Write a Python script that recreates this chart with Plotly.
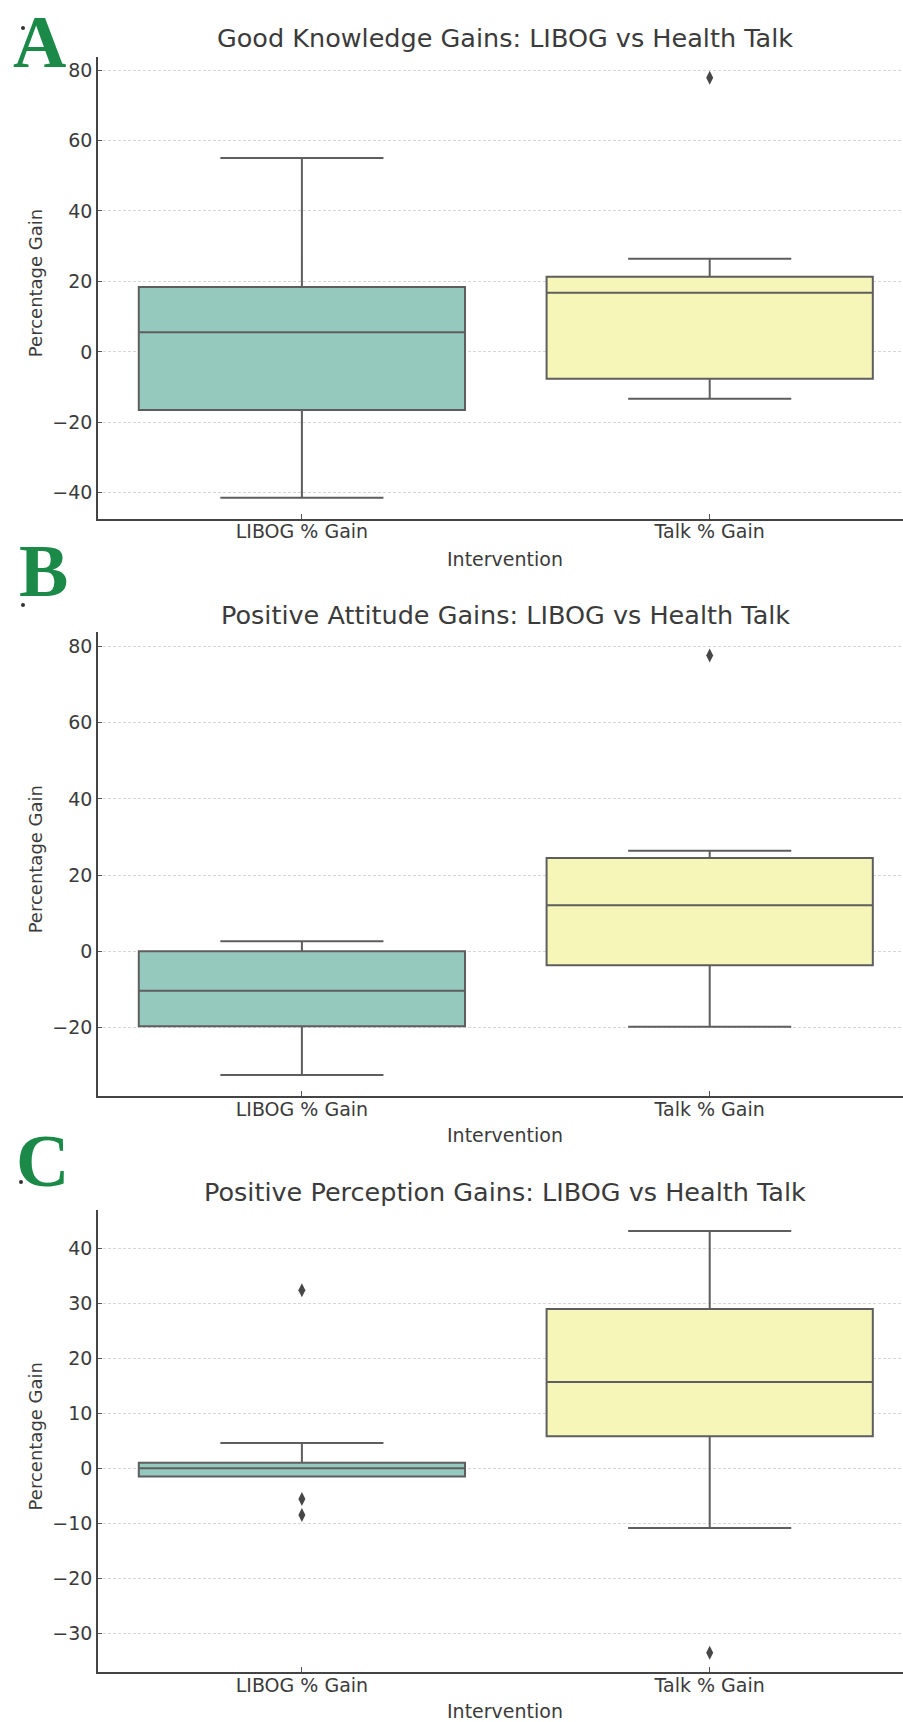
import plotly.graph_objects as go
from plotly.subplots import make_subplots

# ---- data -------------------------------------------------------------
groups = ["LIBOG % Gain", "Talk % Gain"]
panel_titles = [
    "Good Knowledge Gains: LIBOG vs Health Talk",
    "Positive Attitude Gains: LIBOG vs Health Talk",
    "Positive Perception Gains: LIBOG vs Health Talk",
]
panel_letters = ["A", "B", "C"]

# five-number summaries per panel: [LIBOG, Talk]
knowledge_lower = [-41.4, -13.3]
knowledge_q1 = [-16.5, -7.6]
knowledge_median = [5.6, 16.8]
knowledge_q3 = [18.4, 21.3]
knowledge_upper = [55.0, 26.4]
knowledge_outliers = {"LIBOG % Gain": [], "Talk % Gain": [77.8]}

attitude_lower = [-32.5, -19.8]
attitude_q1 = [-19.7, -3.7]
attitude_median = [-10.4, 12.1]
attitude_q3 = [0.0, 24.5]
attitude_upper = [2.6, 26.4]
attitude_outliers = {"LIBOG % Gain": [], "Talk % Gain": [77.6]}

perception_lower = [-1.5, -10.9]
perception_q1 = [-1.5, 5.8]
perception_median = [0.0, 15.7]
perception_q3 = [1.0, 29.0]
perception_upper = [4.6, 43.2]
perception_outliers = {"LIBOG % Gain": [32.4, -5.6, -8.5], "Talk % Gain": [-33.6]}

y_ranges = [[-47.3, 83.7], [-38.0, 83.8], [-37.1, 47.0]]
y_ticks = [list(range(-40, 81, 20)), list(range(-20, 81, 20)), list(range(-30, 41, 10))]

# ---- styling ----------------------------------------------------------
W, H = 903, 1722
box_fill = ["#96c9be", "#f6f6b9"]
edge = "#5e5e5e"
text_col = "#3b3b3b"
font_family = "DejaVu Sans"

# plot area bounds in pixels (top, bottom) for each panel
panel_px = [(57, 518.5), (632, 1096), (1210, 1672)]
x_left_px = 98


def py(p):
    return 1 - p / H


def px(p):
    return p / W


fig = make_subplots(rows=3, cols=1)

panels = [
    (knowledge_lower, knowledge_q1, knowledge_median, knowledge_q3, knowledge_upper, knowledge_outliers),
    (attitude_lower, attitude_q1, attitude_median, attitude_q3, attitude_upper, attitude_outliers),
    (perception_lower, perception_q1, perception_median, perception_q3, perception_upper, perception_outliers),
]

for i, (lo, q1, med, q3, up, outl) in enumerate(panels):
    row = i + 1
    for j, g in enumerate(groups):
        fig.add_trace(
            go.Box(
                x=[g],
                lowerfence=[lo[j]],
                q1=[q1[j]],
                median=[med[j]],
                q3=[q3[j]],
                upperfence=[up[j]],
                fillcolor=box_fill[j],
                line=dict(color=edge, width=2),
                whiskerwidth=0.5,
                width=0.8,
                boxpoints=False,
                showlegend=False,
                hoverinfo="skip",
            ),
            row=row, col=1,
        )
        if outl[g]:
            fig.add_trace(
                go.Scatter(
                    x=[g] * len(outl[g]),
                    y=outl[g],
                    mode="markers",
                    marker=dict(symbol="diamond-tall", size=10, color="#474747"),
                    showlegend=False,
                    hoverinfo="skip",
                ),
                row=row, col=1,
            )

    top, bot = panel_px[i]
    xa = "xaxis" if row == 1 else f"xaxis{row}"
    ya = "yaxis" if row == 1 else f"yaxis{row}"
    fig.layout[xa].update(
        domain=[px(x_left_px), 1],
        type="category",
        categoryorder="array",
        categoryarray=groups,
        range=[-0.5, 1.474],
        showline=True, linecolor="#444444", linewidth=1.6,
        ticks="inside", ticklen=5, tickwidth=1.2, tickcolor="#555555",
        ticklabelstandoff=-5,
        showgrid=False, zeroline=False,
        tickfont=dict(family=font_family, size=19, color=text_col),
    )
    fig.layout[ya].update(
        domain=[py(bot), py(top)],
        range=y_ranges[i],
        tickmode="array", tickvals=y_ticks[i],
        showline=True, linecolor="#444444", linewidth=1.6,
        ticks="inside", ticklen=4, tickwidth=1.2, tickcolor="#555555",
        showgrid=True, gridcolor="#d6d6d6", gridwidth=1, griddash="3px,2px",
        zeroline=False,
        tickfont=dict(family=font_family, size=19, color=text_col),
    )

annotations = []
shapes = []
title_px = [38, 615, 1192]
xlabel_px = [559, 1135, 1711]
# panel letters: (x centre, top of text box) in pixels
letter_px = [(39, 0), (43, 529), (42, 1119)]
dot_px = [(23, 28), (23, 605), (21, 1182)]
for i in range(3):
    annotations.append(dict(
        text=panel_titles[i], x=px(505.5), y=py(title_px[i]),
        xref="paper", yref="paper", xanchor="center", yanchor="middle",
        showarrow=False, font=dict(family=font_family, size=25.5, color=text_col),
    ))
    annotations.append(dict(
        text="Intervention", x=px(505.5), y=py(xlabel_px[i]),
        xref="paper", yref="paper", xanchor="center", yanchor="middle",
        showarrow=False, font=dict(family=font_family, size=19, color=text_col),
    ))
    ydom = "y domain" if i == 0 else f"y{i + 1} domain"
    annotations.append(dict(
        text="Percentage Gain", x=px(35), y=0.51,
        xref="paper", yref=ydom, xanchor="center", yanchor="middle",
        textangle=-90, showarrow=False,
        font=dict(family=font_family, size=18, color=text_col),
    ))
    lx, ly = letter_px[i]
    annotations.append(dict(
        text=f"<b>{panel_letters[i]}</b>", x=px(lx), y=py(ly),
        xref="paper", yref="paper", xanchor="center", yanchor="top",
        showarrow=False, borderpad=0,
        font=dict(family="Liberation Serif", size=74, color="#1b8a48"),
    ))
    dx, dy = dot_px[i]
    shapes.append(dict(
        type="circle", xref="paper", yref="paper",
        x0=px(dx - 2), x1=px(dx + 2), y0=py(dy + 2), y1=py(dy - 2),
        fillcolor="#333333", line=dict(width=0),
    ))

fig.update_layout(
    width=W, height=H,
    margin=dict(l=0, r=0, t=0, b=0),
    paper_bgcolor="white", plot_bgcolor="white",
    boxmode="overlay",
    annotations=annotations,
    shapes=shapes,
    font=dict(family=font_family, color=text_col),
)

fig.write_html("out.html")
